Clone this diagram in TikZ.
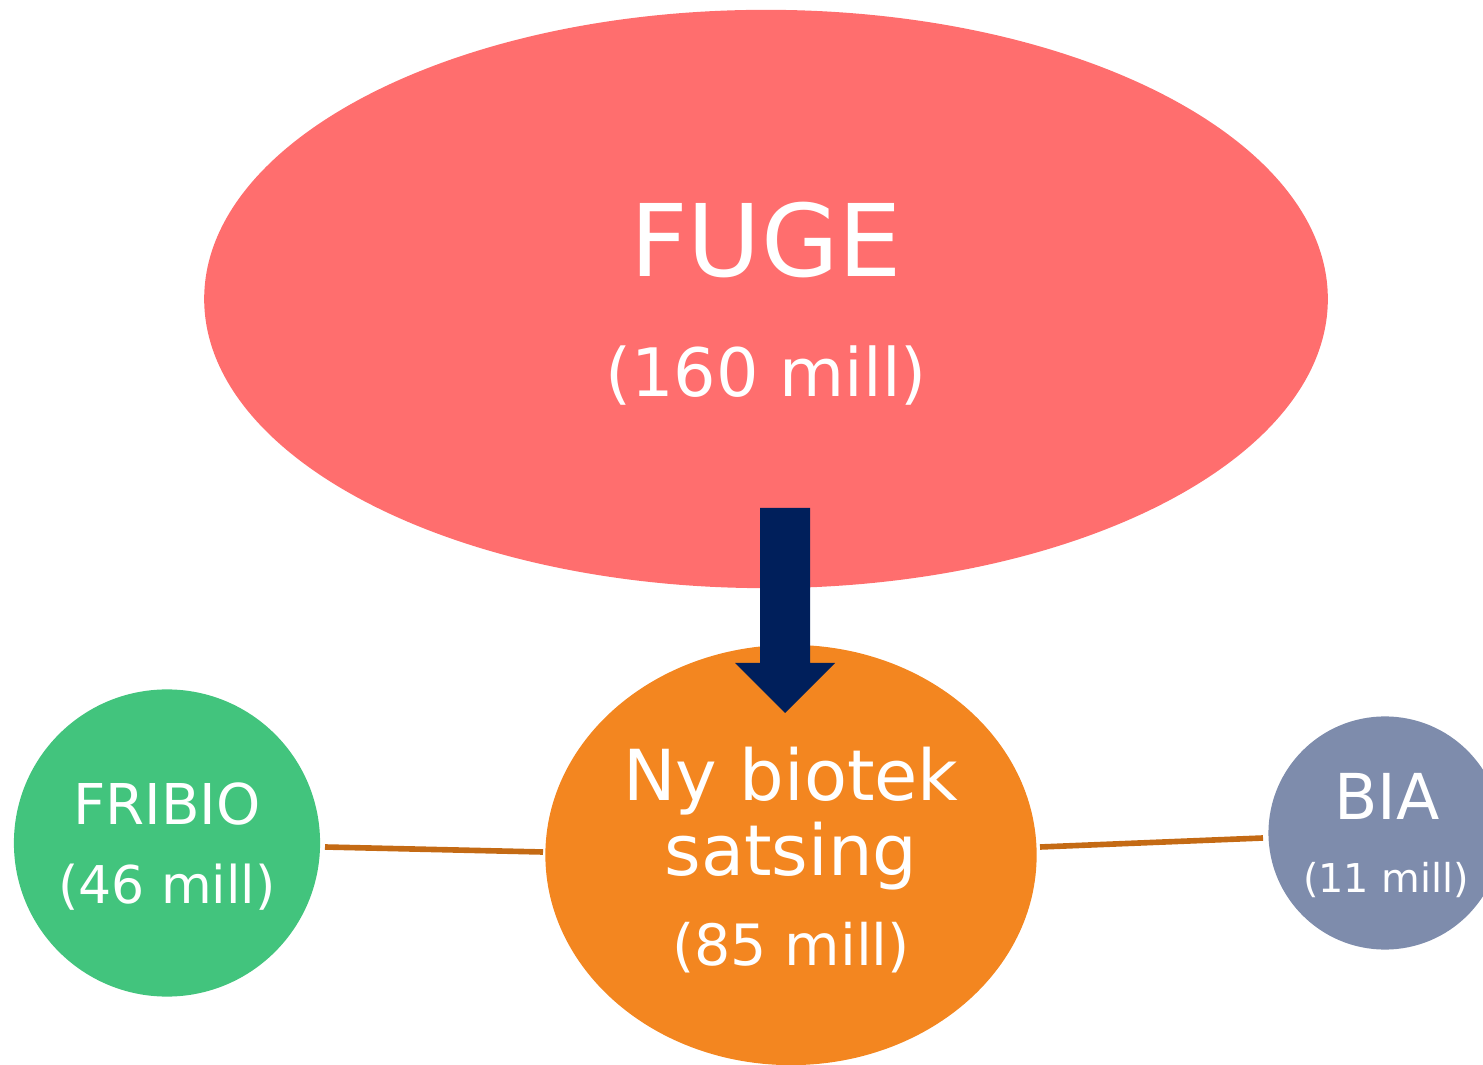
\documentclass[tikz,border=0pt]{standalone}
\usepackage{fontspec}
\setmainfont{DejaVu Sans}
\usetikzlibrary{shapes.geometric}
\definecolor{fugecol}{HTML}{FF6E6E}
\definecolor{nycol}{HTML}{F38620}
\definecolor{fricol}{HTML}{42C47D}
\definecolor{biacol}{HTML}{7E8CAC}
\definecolor{linkcol}{HTML}{C46A14}
\definecolor{navycol}{HTML}{001F5B}
\tikzset{
  blob/.style={ellipse, draw=none, inner sep=0pt},
  lbl/.style={text=white, anchor=base, inner sep=0pt},
  link/.style={draw=linkcol, line width=1.6pt},
}
\begin{document}
\begin{tikzpicture}[x=0.01cm, y=-0.01cm]
\useasboundingbox (0,0) rectangle (1483,1065);
\clip (0,0) rectangle (1483,1065);
% shapes
\node[blob, fill=fugecol, minimum width=11.23cm, minimum height=5.78cm] (fuge) at (766,299) {};
\node[blob, fill=nycol, minimum width=4.91cm, minimum height=4.20cm] (ny) at (791,855) {};
\node[blob, fill=fricol, minimum width=3.06cm, minimum height=3.07cm] (fri) at (167,843) {};
\node[blob, fill=biacol, minimum width=2.33cm, minimum height=2.33cm] (bia) at (1385,833) {};
% connectors
\coordinate (l1a) at (325,847);
\coordinate (l1b) at (543,852);
\coordinate (l2a) at (1040,847);
\coordinate (l2b) at (1263,838);
\draw[link] (l1a) -- (l1b);
\draw[link] (l2a) -- (l2b);
% arrow
\coordinate (arrtop) at (785,508);
\coordinate (arrtip) at (785,713);
\fill[navycol] (760,508) -- (810,508) -- (810,663) -- (835,663) -- (arrtip) -- (735,663) -- (760,663) -- cycle;
% labels
\node[lbl, font=\fontsize{28.5}{30}\selectfont] (fugeT) at (766,277) {FUGE};
\node[lbl, font=\fontsize{19}{22}\selectfont] (fugeN) at (766,397) {(160 mill)};
\node[lbl, font=\fontsize{20}{22}\selectfont] (nyT1) at (791,800) {Ny biotek};
\node[lbl, font=\fontsize{20}{22}\selectfont] (nyT2) at (791,875) {satsing};
\node[lbl, font=\fontsize{16.2}{20}\selectfont] (nyN) at (791,965) {(85 mill)};
\node[lbl, font=\fontsize{16}{19}\selectfont] (friT) at (167,824) {FRIBIO};
\node[lbl, font=\fontsize{14.8}{18}\selectfont] (friN) at (167,903) {(46 mill)};
\node[lbl, font=\fontsize{18}{20}\selectfont] (biaT) at (1387,819) {BIA};
\node[lbl, font=\fontsize{11.3}{14}\selectfont] (biaN) at (1386,892) {(11 mill)};
\end{tikzpicture}
\end{document}
